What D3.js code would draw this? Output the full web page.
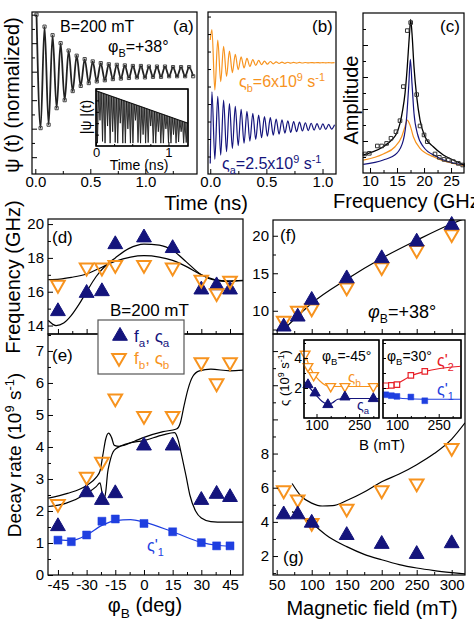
<!DOCTYPE html>
<html>
<head>
<meta charset="utf-8">
<script src="https://cdn.jsdelivr.net/npm/d3@7"></script>
<style>
  body { margin: 0; background: #fff; }
  svg { display: block; }
</style>
</head>
<body>
<script>
const FONT = '"Liberation Sans", Arial, sans-serif';
const NAVY = "#14147c", ORANGE = "#f7931e", BLUE = "#1f3fe0", RED = "#e82028";

// ---- (a) measured signal: extrema (time in ns, normalized value)
const aT = [0.011, 0.048, 0.084, 0.121, 0.157, 0.194, 0.230, 0.267, 0.303, 0.340, 0.376, 0.413, 0.449, 0.486, 0.522, 0.559, 0.595, 0.632, 0.668, 0.705,
  0.741, 0.778, 0.814, 0.851, 0.887, 0.924, 0.960, 0.997, 1.033, 1.070, 1.106, 1.143, 1.179, 1.216, 1.252, 1.289, 1.325, 1.362, 1.398, 1.435];
const aV = [1.0, -0.99, 0.79, -0.93, 0.64, -0.64, 0.5, -0.5, 0.37, -0.34, 0.28, -0.25, 0.22, -0.2, 0.18, -0.17, 0.15, -0.15, 0.13, -0.13,
  0.12, -0.12, 0.11, -0.11, 0.1, -0.1, 0.1, -0.1, 0.09, -0.09, 0.09, -0.09, 0.09, -0.08, 0.08, -0.08, 0.08, -0.08, 0.08, -0.08];
// (a) inset |psi|(t): envelope and spike minima
const insEnvT = [0, 1.27], insEnvV = [0.97, 0.40];
const insT = [0.02, 0.055, 0.09, 0.125, 0.16, 0.195, 0.23, 0.265, 0.30, 0.335, 0.37, 0.405, 0.44, 0.475, 0.51, 0.545, 0.58, 0.615,
  0.65, 0.685, 0.72, 0.755, 0.79, 0.825, 0.86, 0.895, 0.93, 0.965, 1.0, 1.035, 1.07, 1.105, 1.14, 1.175, 1.21, 1.245];
const insLow = [0.05, 0.45, 0.08, 0.05, 0.35, 0.05, 0.25, 0.06, 0.05, 0.4, 0.05, 0.05, 0.3, 0.05, 0.05, 0.45, 0.06, 0.05,
  0.2, 0.05, 0.06, 0.35, 0.05, 0.05, 0.25, 0.05, 0.05, 0.3, 0.06, 0.05, 0.2, 0.05, 0.07, 0.25, 0.05, 0.06];

// ---- (b) model signals: extrema times and values
const bT = [0, 0.015, 0.041, 0.067, 0.093, 0.119, 0.145, 0.171, 0.197, 0.223, 0.249, 0.275, 0.301, 0.327, 0.353, 0.379, 0.405, 0.431, 0.457, 0.483, 0.509, 0.535,
  0.561, 0.587, 0.613, 0.639, 0.665, 0.691, 0.717, 0.743, 0.769, 0.795, 0.821, 0.847, 0.873, 0.899, 0.925, 0.951, 0.977, 1.003, 1.029, 1.055, 1.081, 1.107];
const bNavy = [-1.05, 1.0, -0.93, 0.87, -0.81, 0.76, -0.71, 0.66, -0.62, 0.58, -0.54, 0.5, -0.47, 0.44, -0.41, 0.38, -0.36, 0.33, -0.31, 0.29, -0.27, 0.26,
  -0.24, 0.22, -0.21, 0.2, -0.18, 0.17, -0.16, 0.15, -0.14, 0.13, -0.12, 0.115, -0.11, 0.1, -0.095, 0.09, -0.085, 0.08, -0.075, 0.07, -0.065, 0.06];
const bOrange = [0.65, 0.95, -0.78, 0.65, -0.54, 0.47, -0.39, 0.33, -0.28, 0.24, -0.2, 0.17, -0.145, 0.125, -0.105, 0.09, -0.077, 0.066, -0.056, 0.048, -0.041, 0.035,
  -0.03, 0.026, -0.022, 0.019, -0.016, 0.014, -0.012, 0.01, -0.009, 0.008, -0.007, 0.006, -0.005, 0.005, -0.004, 0.004, -0.003, 0.003, -0.003, 0.002, -0.002, 0.002];

// ---- (c) spectra
const cBlackF = [8.76, 10.6, 12.46, 14.0, 14.94, 15.55, 16.05, 16.48, 16.9, 17.27, 17.53, 17.77, 18.14, 18.64, 19.26, 20.18, 21.72, 23.57, 25.42, 27.4];
const cBlackA = [0.113, 0.133, 0.164, 0.206, 0.248, 0.31, 0.394, 0.498, 0.664, 0.852, 0.96, 0.873, 0.664, 0.477, 0.331, 0.227, 0.164, 0.113, 0.081, 0.05];
const cBlueF = [8.76, 12.46, 14.94, 16.17, 16.79, 17.16, 17.47, 17.77, 18.14, 18.76, 19.87, 22.35, 27.4];
const cBlueA = [0.054, 0.081, 0.123, 0.206, 0.352, 0.54, 0.71, 0.56, 0.373, 0.248, 0.164, 0.102, 0.05];
const cOrangeF = [8.76, 12.46, 14.63, 15.86, 16.48, 16.9, 17.4, 18.02, 19.26, 21.72, 27.4];
const cOrangeA = [0.081, 0.119, 0.164, 0.227, 0.29, 0.331, 0.3, 0.227, 0.154, 0.102, 0.046];
const cDataF = [9.07, 9.87, 11.35, 12.15, 13.07, 13.88, 14.8, 15.55, 16.17, 16.9, 17.53, 18.64, 19.26, 20.0, 20.6, 22.03, 22.83, 23.7, 24.5, 25.42, 26.35, 27.16];
const cDataA = [0.119, 0.123, 0.169, 0.169, 0.185, 0.217, 0.258, 0.327, 0.54, 0.89, 0.94, 0.49, 0.294, 0.238, 0.196, 0.119, 0.098, 0.085, 0.081, 0.071, 0.06, 0.05];

// ---- (d), (e) angle dependence at B = 200 mT
const phi = [-45, -30, -22, -15, 0, 15, 30, 38, 45];
const fA = [14.84, 15.92, 16.02, 18.8, 19.2, 18.57, 16.12, 16.37, 16.12];
const fB = [16.41, 17.43, 17.43, 17.59, 17.59, 17.43, 16.71, 15.92, 16.65];
const gA = [1.52, 2.58, 2.34, 2.55, 4.04, 4.04, 2.34, 2.53, 2.43];
const gB = [2.22, 3.07, 3.54, 5.52, 4.97, 4.97, 6.65, 5.99, 6.65];
const phiS = [-45, -38, -30, -22, -15, 0, 15, 30, 38, 45];
const gS1 = [1.09, 1.04, 1.25, 1.68, 1.75, 1.61, 1.35, 1.01, 0.91, 0.91];
const dFit1 = [[-50, 14.3], [-46, 14.0], [-42, 14.15], [-38, 14.6], [-34, 15.25], [-30, 16.0], [-25, 16.9], [-20, 17.55], [-15, 18.0], [-8, 18.55],
  [0, 18.82], [8, 18.76], [15, 18.45], [22, 17.78], [30, 17.0], [37, 16.68], [44, 16.6], [52, 16.65]];
const dFit2 = [[-50, 16.72], [-44, 16.75], [-38, 16.85], [-30, 17.05], [-22, 17.45], [-15, 17.8], [-7, 18.05], [0, 18.13], [8, 18.05], [15, 17.85],
  [22, 17.5], [30, 17.0], [37, 16.72], [44, 16.65], [52, 16.68]];
const eFit1 = [[-50, 2.4], [-40, 2.55], [-30, 2.8], [-25, 3.05], [-23, 3.25], [-21.5, 3.75], [-20, 4.25], [-18.5, 4.43], [-17, 4.3], [-15.5, 4.05],
  [-13, 4.02], [-5, 4.18], [0, 4.3], [10, 4.48], [17, 4.56], [19, 4.75], [21, 5.3], [23, 5.8], [25.5, 6.2], [29, 6.38], [35, 6.43], [45, 6.38], [52, 6.4]];
const eFit2 = [[-50, 2.14], [-41, 2.24], [-30, 2.55], [-25, 2.76], [-23, 2.88], [-22, 2.6], [-21, 2.35], [-20, 2.6], [-19, 3.2], [-18, 3.5], [-15.5, 3.9],
  [-9, 4.1], [0, 4.2], [10, 4.38], [16, 4.45], [18, 4.2], [19.5, 3.8], [22, 3.1], [24, 2.5], [27, 2.0], [30, 1.78], [35, 1.67], [42, 1.65], [52, 1.65]];
const eFitS1 = [[-45, 1.1], [-38, 1.08], [-30, 1.25], [-22, 1.55], [-15, 1.7], [-7, 1.73], [0, 1.65], [15, 1.35], [30, 1.02], [38, 0.93], [45, 0.9]];

// ---- (f), (g) field dependence at phi_B = +38 deg
const fieldB = [60, 80, 100, 150, 200, 250, 300];
const fAf = [7.87, 9.2, 11.43, 14.3, 16.98, 19.2, 21.43];
const fBf = [8.67, 10.0, 10.3, 13.1, 15.8, 18.1, 20.2];
const gAg = [4.43, 4.43, 3.94, 3.22, 2.70, 2.11, 2.74];
const gBg = [5.85, 5.31, 3.94, 4.78, 5.85, 6.25, 8.33];
const fFit = [[60, 7.5], [80, 9.3], [100, 11.0], [150, 14.2], [200, 17.0], [250, 19.4], [300, 21.6], [319, 22.3]];
const gFitUp = [[72, 6.25], [85, 5.5], [100, 5.1], [115, 4.93], [130, 4.95], [150, 5.25], [175, 5.75], [200, 6.35], [225, 6.8], [250, 7.35], [275, 8.0], [300, 8.85], [319, 9.8]];
const gFitLo = [[72, 4.6], [85, 4.3], [100, 3.9], [125, 3.1], [150, 2.55], [175, 2.1], [200, 1.78], [225, 1.5], [250, 1.3], [275, 1.15], [300, 1.03], [319, 0.95]];

// ---- insets in (g)
const in1Bb = [60, 70, 90, 150, 200, 300], in1Gb = [4.27, 3.44, 2.84, 2.11, 2.11, 2.11];
const in1Ba = [70, 95, 140, 200, 300], in1Ga = [2.22, 1.67, 0.89, 1.40, 1.29];
const in1FitB = [[56, 4.5], [70, 3.7], [90, 2.95], [110, 2.5], [130, 2.2], [150, 2.1], [320, 2.1]];
const in1FitA = [[56, 2.45], [70, 2.15], [95, 1.6], [120, 1.1], [140, 0.92], [155, 1.0], [175, 1.25], [200, 1.3], [320, 1.3]];
const in2B = [60, 80, 100, 150, 200];
const in2G2 = [2.15, 2.17, 2.22, 2.84, 3.11];
const in2G1 = [1.55, 1.49, 1.44, 1.40, 1.15];
const in2Fit2 = [[50, 2.05], [100, 2.3], [150, 2.8], [200, 3.1], [330, 3.45]];
const in2Fit1 = [[50, 1.65], [80, 1.45], [120, 1.3], [200, 1.25], [330, 1.25]];

// ---------------------------------------------------------------
const svg = d3.select("body").append("svg").attr("width", 474).attr("height", 620)
  .attr("font-family", FONT);
svg.append("rect").attr("width", 474).attr("height", 620).attr("fill", "#fff");
const defs = svg.append("defs");
let clipN = 0;
function clip(x0, y0, x1, y1) {
  const id = "clip" + (clipN++);
  defs.append("clipPath").attr("id", id).append("rect")
    .attr("x", x0).attr("y", y0).attr("width", x1 - x0).attr("height", y1 - y0);
  return `url(#${id})`;
}
function frame(xs, ys, fill) {
  const [x0, x1] = xs.range(), [y1, y0] = ys.range();
  svg.append("rect").attr("x", x0).attr("y", y0).attr("width", x1 - x0).attr("height", y1 - y0)
    .attr("fill", fill || "none").attr("stroke", "#000").attr("stroke-width", 1.2);
}
function axis(scale, side, pos, ticks, labels, len, size, pad) {
  const a = (side === "b" ? d3.axisBottom(scale) : d3.axisLeft(scale))
    .tickValues(ticks).tickSizeInner(-len).tickSizeOuter(0).tickPadding(pad == null ? 4 : pad)
    .tickFormat((d, i) => labels ? (labels[i] || "") : "");
  const g = svg.append("g")
    .attr("transform", side === "b" ? `translate(0,${pos})` : `translate(${pos},0)`)
    .call(a).attr("font-family", FONT).attr("font-size", size || 15);
  g.select(".domain").remove();
  g.selectAll("line").attr("stroke", "#000");
  g.selectAll("text").attr("fill", "#000");
  return g;
}
function rich(x, y, parts, o = {}) {
  const size = o.size || 16;
  const t = svg.append("text").attr("x", x).attr("y", y).attr("font-size", size)
    .attr("fill", o.color || "#000").attr("text-anchor", o.anchor || "start");
  if (o.rotate) t.attr("transform", `rotate(-90,${x},${y})`);
  let shift = 0;
  parts.forEach(p => {
    const [s, k, it] = Array.isArray(p) ? p : [p, ""];
    const target = k === "sub" ? 0.3 : k === "sup" ? -0.38 : 0;
    const ts = t.append("tspan").text(s);
    if (target !== shift) ts.attr("dy", ((target - shift) * size).toFixed(1));
    if (k) ts.attr("font-size", (size * 0.68).toFixed(1));
    if (it) ts.attr("font-style", "italic");
    shift = target;
  });
  return t;
}
function curve(data, xs, ys, color, width, clipUrl, kind) {
  svg.append("path").datum(data)
    .attr("d", d3.line().x(d => xs(d[0])).y(d => ys(d[1])).curve(kind || d3.curveMonotoneX))
    .attr("fill", "none").attr("stroke", color).attr("stroke-width", width)
    .attr("clip-path", clipUrl || null);
}
function marks(X, Y, xs, ys, type, size, fill, stroke, sw, flip) {
  svg.append("g").selectAll("path").data(d3.zip(X, Y)).join("path")
    .attr("transform", d => `translate(${xs(d[0])},${ys(d[1])})` + (flip ? " rotate(180)" : ""))
    .attr("d", d3.symbol(type, size))
    .attr("fill", fill).attr("stroke", stroke).attr("stroke-width", sw);
}

// ============ (a)
const xa = d3.scaleLinear().domain([-0.03, 1.47]).range([32, 197]);
const ya = d3.scaleLinear().domain([-1.795, 1.047]).range([174, 12]);
const clipA = clip(32, 12, 197, 174);
curve(d3.zip(aT, aV), xa, ya, "#222", 1.8, clipA);
marks(aT, aV, xa, ya, d3.symbolSquare, 10, "none", "#444", 1);
axis(xa, "b", 174, [0, 0.5, 1.0], ["0.0", "0.5", "1.0"], 5, 15, 2);
axis(xa, "b", 174, [0.25, 0.75, 1.25], null, 3);
axis(ya, "l", 32, [-1.5, -1, -0.5, 0, 0.5, 1], null, 5);
axis(ya, "l", 32, [-1.25, -0.75, -0.25, 0.25, 0.75], null, 3);
frame(xa, ya);
rich(60, 32, ["B=200 mT"], { size: 16 });
rich(108, 52, ["φ", ["B", "sub"], "=+38°"], { size: 16 });
rich(173, 32, ["(a)"], { size: 17 });
rich(19, 95, ["ψ (t) (normalized)"], { size: 20, rotate: true, anchor: "middle" });

// inset of (a)
const xi = d3.scaleLinear().domain([0, 1.27]).range([96, 188]);
const yi = d3.scaleLinear().domain([0, 1]).range([146, 89]);
frame(xi, yi, "#fff");
const env = d3.scaleLinear().domain(insEnvT).range(insEnvV);
svg.append("g").attr("clip-path", clip(96, 89, 188, 146)).selectAll("path").data(d3.zip(insT, insLow)).join("path")
  .attr("d", d => `M${xi(d[0]) - 1.3},${yi(env(d[0] - 0.012))}L${xi(d[0])},${yi(d[1])}L${xi(d[0]) + 1.3},${yi(env(d[0] + 0.012))}`)
  .attr("fill", "#777").attr("stroke", "#111").attr("stroke-width", 0.8);
curve(d3.zip(insEnvT, insEnvV), xi, yi, "#111", 1.2, null, d3.curveLinear);
axis(xi, "b", 146, [0, 1], ["0", "1"], 4, 13, 2);
axis(xi, "b", 146, [0.25, 0.5, 0.75], null, 2, 13);
axis(yi, "l", 96, [0.2, 0.4, 0.6, 0.8], null, 3, 13);
frame(xi, yi);
rich(139, 170, ["Time (ns)"], { size: 14, anchor: "middle" });
rich(91, 117, ["|ψ |(t)"], { size: 14, rotate: true, anchor: "middle" });

// ============ (b)
const xb = d3.scaleLinear().domain([-0.02, 1.12]).range([208, 336]);
const yb = d3.scaleLinear().domain([0, 4.63]).range([174, 12]);
const clipB = clip(208, 12, 336, 174);
const orangeOffset = 3.18, navyOffset = 1.35;
curve(d3.zip(bT, bOrange.map(v => v + orangeOffset)), xb, yb, ORANGE, 1.2, clipB);
curve(d3.zip(bT, bNavy.map(v => v + navyOffset)), xb, yb, NAVY, 1.2, clipB);
axis(xb, "b", 174, [0, 0.5, 1.0], ["0.0", "0.5", "1.0"], 5, 15, 2);
axis(xb, "b", 174, [0.25, 0.75], null, 3);
axis(yb, "l", 208, [0.5, 1, 1.5, 2, 2.5, 3, 3.5, 4, 4.5], null, 3);
frame(xb, yb);
rich(312, 32, ["(b)"], { size: 17 });
rich(239, 87, ["ς", ["b", "sub"], "=6x10", ["9", "sup"], " s", ["-1", "sup"]], { size: 16, color: ORANGE });
rich(222, 169, ["ς", ["a", "sub"], "=2.5x10", ["9", "sup"], " s", ["-1", "sup"]], { size: 16, color: NAVY });
rich(206, 210, ["Time (ns)"], { size: 20, anchor: "middle" });

// ============ (c)
const xc = d3.scaleLinear().domain([8.7, 27.4]).range([363, 464]);
const yc = d3.scaleLinear().domain([0, 1]).range([173, 13]);
const clipC = clip(363, 13, 464, 173);
curve(d3.zip(cOrangeF, cOrangeA), xc, yc, ORANGE, 1.2, clipC);
curve(d3.zip(cBlueF, cBlueA), xc, yc, NAVY, 1.2, clipC);
curve(d3.zip(cBlackF, cBlackA), xc, yc, "#000", 1.3, clipC);
marks(cDataF, cDataA, xc, yc, d3.symbolSquare, 13, "none", "#333", 1);
axis(xc, "b", 173, [10, 15, 20, 25], ["10", "15", "20", "25"], 5, 15, 2);
axis(xc, "b", 173, [12.5, 17.5, 22.5], null, 3);
axis(yc, "l", 363, [0.2, 0.4, 0.6, 0.8], null, 5);
axis(yc, "l", 363, [0.1, 0.3, 0.5, 0.7, 0.9], null, 3);
frame(xc, yc);
rich(440, 32, ["(c)"], { size: 17 });
rich(358, 100, ["Amplitude"], { size: 20, rotate: true, anchor: "middle" });
rich(333, 208, ["Frequency (GHz)"], { size: 20 });

// ============ (d)
const xp = d3.scaleLinear().domain([-50.2, 51.8]).range([48, 243]);
const yd = d3.scaleLinear().domain([13.5, 20.3]).range([334, 219]);
const ye = d3.scaleLinear().domain([0, 7.53]).range([575, 334]);
const clipD = clip(48, 219, 243, 334), clipE = clip(48, 334, 243, 575);
curve(dFit1, xp, yd, "#000", 1.2, clipD);
curve(dFit2, xp, yd, "#000", 1.2, clipD);
marks(phi, fA, xp, yd, d3.symbolTriangle, 95, NAVY, NAVY, 1);
marks(phi, fB, xp, yd, d3.symbolTriangle, 80, "none", ORANGE, 2, true);
axis(yd, "l", 48, [14, 16, 18, 20], ["14", "16", "18", "20"], 5);
axis(yd, "l", 48, [15, 17, 19], null, 3);
axis(xp, "b", 334, [-45, -30, -15, 0, 15, 30, 45], null, 5);
axis(xp, "b", 334, [-37.5, -22.5, -7.5, 7.5, 22.5, 37.5], null, 3);
frame(xp, yd);
rich(52, 243, ["(d)"], { size: 17 });
rich(110, 316, ["B=200 mT"], { size: 17 });
rich(20, 277, ["Frequency (GHz)"], { size: 20, rotate: true, anchor: "middle" });

// ============ (e)
curve(eFit1, xp, ye, "#000", 1.2, clipE);
curve(eFit2, xp, ye, "#000", 1.2, clipE);
curve(eFitS1, xp, ye, BLUE, 1.2, clipE);
marks(phiS, gS1, xp, ye, d3.symbolSquare, 64, BLUE, BLUE, 0.5);
marks(phi, gA, xp, ye, d3.symbolTriangle, 95, NAVY, NAVY, 1);
marks(phi, gB, xp, ye, d3.symbolTriangle, 80, "none", ORANGE, 2, true);
axis(ye, "l", 48, [0, 1, 2, 3, 4, 5, 6, 7], ["0", "1", "2", "3", "4", "5", "6", "7"], 5);
axis(ye, "l", 48, [0.5, 1.5, 2.5, 3.5, 4.5, 5.5, 6.5, 7.5], null, 3);
axis(xp, "b", 575, [-45, -30, -15, 0, 15, 30, 45], ["-45", "-30", "-15", "0", "15", "30", "45"], 5);
axis(xp, "b", 575, [-37.5, -22.5, -7.5, 7.5, 22.5, 37.5], null, 3);
frame(xp, ye);
rich(52, 361, ["(e)"], { size: 17 });
rich(147, 551, ["ς'", ["1", "sub"]], { size: 16, color: BLUE });
rich(21, 455, ["Decay rate (10", ["9", "sup"], " s", ["-1", "sup"], ")"], { size: 19, rotate: true, anchor: "middle" });
rich(145, 612, ["φ", ["B", "sub"], " (deg)"], { size: 20, anchor: "middle" });

// legend
svg.append("rect").attr("x", 98).attr("y", 320).attr("width", 86).attr("height", 54)
  .attr("fill", "#fff").attr("stroke", "#555").attr("stroke-width", 1.2);
svg.append("path").attr("transform", "translate(120,336)").attr("d", d3.symbol(d3.symbolTriangle, 95))
  .attr("fill", NAVY).attr("stroke", NAVY);
svg.append("path").attr("transform", "translate(119,358) rotate(180)").attr("d", d3.symbol(d3.symbolTriangle, 80))
  .attr("fill", "none").attr("stroke", ORANGE).attr("stroke-width", 2);
rich(134, 342, ["f", ["a", "sub"], ", ς", ["a", "sub"]], { size: 17, color: NAVY });
rich(134, 364, ["f", ["b", "sub"], ", ς", ["b", "sub"]], { size: 17, color: ORANGE });

// ============ (f)
const xB = d3.scaleLinear().domain([44.7, 319]).range([273, 465]);
const yf = d3.scaleLinear().domain([6.9, 22.1]).range([334, 220]);
const yg = d3.scaleLinear().domain([0.89, 15]).range([575, 334]);
const clipF = clip(273, 220, 465, 334), clipG = clip(273, 334, 465, 575);
curve(fFit, xB, yf, "#000", 1.2, clipF);
marks(fieldB, fBf, xB, yf, d3.symbolTriangle, 80, "none", ORANGE, 2, true);
marks(fieldB, fAf, xB, yf, d3.symbolTriangle, 95, NAVY, NAVY, 1);
axis(yf, "l", 273, [10, 15, 20], ["10", "15", "20"], 5);
axis(yf, "l", 273, [7.5, 12.5, 17.5], null, 3);
axis(xB, "b", 334, [50, 100, 150, 200, 250, 300], null, 5);
axis(xB, "b", 334, [75, 125, 175, 225, 275], null, 3);
frame(xB, yf);
rich(280, 241, ["(f)"], { size: 17 });
rich(368, 318, [["φ", "", true], ["B", "sub"], "=+38°"], { size: 18 });

// ============ (g)
curve(gFitUp, xB, yg, "#000", 1.2, clipG);
curve(gFitLo, xB, yg, "#000", 1.2, clipG);
marks(fieldB, gBg, xB, yg, d3.symbolTriangle, 80, "none", ORANGE, 2, true);
marks(fieldB, gAg, xB, yg, d3.symbolTriangle, 95, NAVY, NAVY, 1);
axis(yg, "l", 273, [2, 4, 6, 8, 10, 12, 14], ["2", "4", "6", "8"], 5);
axis(yg, "l", 273, [1, 3, 5, 7, 9, 11, 13], null, 3);
axis(xB, "b", 575, [50, 100, 150, 200, 250, 300], ["50", "100", "150", "200", "250", "300"], 5);
axis(xB, "b", 575, [75, 125, 175, 225, 275], null, 3);
frame(xB, yg);
rich(283, 563, ["(g)"], { size: 17 });
rich(372, 615, ["Magnetic field (mT)"], { size: 20, anchor: "middle" });

// insets in (g)
const xs1 = d3.scaleLinear().domain([56, 320]).range([304, 379]);
const xs2 = d3.scaleLinear().domain([50, 330]).range([383, 461]);
const ys = d3.scaleLinear().domain([0, 5.2]).range([418, 340]);
frame(xs1, ys, "#fff");
frame(xs2, ys, "#fff");
const clipS1 = clip(304, 340, 379, 418), clipS2 = clip(383, 340, 461, 418);
curve(in1FitB, xs1, ys, ORANGE, 1.2, clipS1);
curve(in1FitA, xs1, ys, NAVY, 1.2, clipS1);
marks(in1Bb, in1Gb, xs1, ys, d3.symbolTriangle, 40, "#fff", ORANGE, 1.4, true);
marks(in1Ba, in1Ga, xs1, ys, d3.symbolTriangle, 45, NAVY, NAVY, 1);
curve(in2Fit2, xs2, ys, RED, 1.2, clipS2);
curve(in2Fit1, xs2, ys, BLUE, 1.2, clipS2);
marks(in2B, in2G2, xs2, ys, d3.symbolSquare, 30, "#fff", RED, 1.2);
marks(in2B, in2G1, xs2, ys, d3.symbolSquare, 34, BLUE, BLUE, 0.5);
axis(ys, "l", 304, [2, 4], ["2", "4"], 4, 14, 2);
axis(ys, "l", 304, [1, 3, 5], null, 2, 14);
axis(ys, "l", 383, [1, 2, 3, 4, 5], null, 3, 14);
axis(xs1, "b", 418, [100, 250], ["100", "250"], 4, 14, 2);
axis(xs1, "b", 418, [150, 200, 300], null, 2, 14);
axis(xs2, "b", 418, [100, 250], ["100", "250"], 4, 14, 2);
axis(xs2, "b", 418, [150, 200, 300], null, 2, 14);
frame(xs1, ys);
frame(xs2, ys);
rich(322, 361, ["φ", ["B", "sub"], "=-45°"], { size: 14 });
rich(348, 382, ["ς", ["b", "sub"]], { size: 15, color: ORANGE });
rich(357, 410, ["ς", ["a", "sub"]], { size: 14, color: NAVY });
rich(387, 361, ["φ", ["B", "sub"], "=30°"], { size: 14 });
rich(437, 366, ["ς'", ["2", "sub"]], { size: 16, color: RED });
rich(437, 395, ["ς'", ["1", "sub"]], { size: 16, color: BLUE });
rich(382, 450, ["B (mT)"], { size: 15, anchor: "middle" });
rich(289, 378, ["ς (10", ["9", "sup"], " s", ["-1", "sup"], ")"], { size: 13, rotate: true, anchor: "middle" });
</script>
</body>
</html>
